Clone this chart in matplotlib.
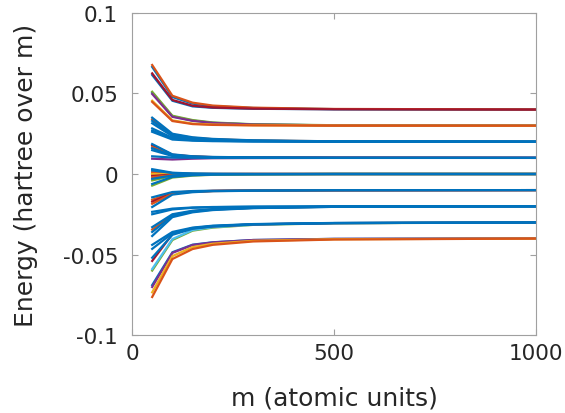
import matplotlib
matplotlib.use('Agg')
import matplotlib.pyplot as plt

# MATLAB default line colours
BLUE = '#0072BD'
ORANGE = '#D95319'
YELLOW = '#EDB120'
PURPLE = '#7E2F8E'
GREEN = '#77AC30'
LBLUE = '#4DBEEE'
RED = '#A2142F'

m = [50, 100, 150, 200, 300, 500, 1000]

# energies, one row per curve, grouped by the level they settle on
lvl_p04 = [
    (BLUE,   [0.0665, 0.0478, 0.0437, 0.0421, 0.0410, 0.0403, 0.0401]),
    (BLUE,   [0.0615, 0.0455, 0.0420, 0.0411, 0.0405, 0.0402, 0.0400]),
    (ORANGE, [0.0677, 0.0486, 0.0443, 0.0425, 0.0412, 0.0404, 0.0401]),
    (RED,    [0.0625, 0.0460, 0.0424, 0.0413, 0.0406, 0.0402, 0.0400]),
]
lvl_p03 = [
    (BLUE,   [0.0505, 0.0358, 0.0332, 0.0318, 0.0308, 0.0302, 0.0300]),
    (GREEN,  [0.0511, 0.0362, 0.0335, 0.0320, 0.0309, 0.0303, 0.0301]),
    (PURPLE, [0.0497, 0.0355, 0.0330, 0.0317, 0.0307, 0.0302, 0.0300]),
    (YELLOW, [0.0455, 0.0333, 0.0313, 0.0307, 0.0303, 0.0301, 0.0300]),
    (ORANGE, [0.0448, 0.0329, 0.0310, 0.0305, 0.0302, 0.0300, 0.0300]),
]
lvl_p02 = [
    (ORANGE, [0.0340, 0.0245, 0.0225, 0.0216, 0.0208, 0.0203, 0.0201]),
    (BLUE,   [0.0350, 0.0250, 0.0228, 0.0218, 0.0209, 0.0203, 0.0201]),
    (BLUE,   [0.0330, 0.0240, 0.0222, 0.0214, 0.0207, 0.0202, 0.0200]),
    (BLUE,   [0.0315, 0.0235, 0.0219, 0.0212, 0.0206, 0.0202, 0.0200]),
    (BLUE,   [0.0283, 0.0225, 0.0212, 0.0207, 0.0204, 0.0201, 0.0200]),
    (BLUE,   [0.0270, 0.0220, 0.0210, 0.0206, 0.0203, 0.0201, 0.0200]),
    (BLUE,   [0.0262, 0.0214, 0.0207, 0.0204, 0.0202, 0.0201, 0.0200]),
]
lvl_p01 = [
    (RED,    [0.0178, 0.0120, 0.0109, 0.0105, 0.0103, 0.0101, 0.0100]),
    (ORANGE, [0.0168, 0.0117, 0.0108, 0.0104, 0.0102, 0.0101, 0.0100]),
    (BLUE,   [0.0186, 0.0122, 0.0110, 0.0106, 0.0103, 0.0101, 0.0100]),
    (BLUE,   [0.0160, 0.0115, 0.0107, 0.0104, 0.0102, 0.0101, 0.0100]),
    (BLUE,   [0.0148, 0.0112, 0.0106, 0.0103, 0.0102, 0.0100, 0.0100]),
    (PURPLE, [0.0095, 0.0090, 0.0095, 0.0098, 0.0099, 0.0100, 0.0100]),
    (BLUE,   [0.0110, 0.0102, 0.0101, 0.0100, 0.0100, 0.0100, 0.0100]),
]
lvl_0 = [
    (ORANGE, [0.0012, 0.0003, 0.0001, 0.0000, 0.0000, 0.0000, 0.0000]),
    (YELLOW, [0.0000, 0.0000, 0.0000, 0.0000, 0.0000, 0.0000, 0.0000]),
    (RED,    [-0.0012, -0.0004, -0.0001, 0.0000, 0.0000, 0.0000, 0.0000]),
    (ORANGE, [-0.0020, -0.0006, -0.0002, -0.0001, 0.0000, 0.0000, 0.0000]),
    (GREEN,  [-0.0040, -0.0012, -0.0005, -0.0002, -0.0001, 0.0000, 0.0000]),
    (GREEN,  [-0.0072, -0.0022, -0.0010, -0.0005, -0.0002, 0.0000, 0.0000]),
    (BLUE,   [0.0030, 0.0008, 0.0003, 0.0001, 0.0000, 0.0000, 0.0000]),
    (BLUE,   [0.0022, 0.0006, 0.0002, 0.0001, 0.0000, 0.0000, 0.0000]),
    (BLUE,   [-0.0030, -0.0009, -0.0003, -0.0001, 0.0000, 0.0000, 0.0000]),
    (BLUE,   [-0.0062, -0.0018, -0.0008, -0.0004, -0.0002, 0.0000, 0.0000]),
]
lvl_m01 = [
    (ORANGE, [-0.0160, -0.0116, -0.0108, -0.0105, -0.0102, -0.0101, -0.0100]),
    (RED,    [-0.0172, -0.0119, -0.0109, -0.0105, -0.0103, -0.0101, -0.0100]),
    (ORANGE, [-0.0185, -0.0122, -0.0110, -0.0106, -0.0103, -0.0101, -0.0100]),
    (BLUE,   [-0.0145, -0.0112, -0.0106, -0.0104, -0.0102, -0.0101, -0.0100]),
    (BLUE,   [-0.0205, -0.0128, -0.0113, -0.0107, -0.0104, -0.0101, -0.0100]),
]
lvl_m02 = [
    (ORANGE, [-0.0345, -0.0255, -0.0231, -0.0220, -0.0210, -0.0203, -0.0201]),
    (BLUE,   [-0.0235, -0.0215, -0.0208, -0.0205, -0.0203, -0.0201, -0.0200]),
    (BLUE,   [-0.0250, -0.0220, -0.0210, -0.0206, -0.0203, -0.0201, -0.0200]),
    (BLUE,   [-0.0330, -0.0250, -0.0228, -0.0218, -0.0209, -0.0203, -0.0201]),
    (BLUE,   [-0.0360, -0.0260, -0.0234, -0.0221, -0.0211, -0.0204, -0.0201]),
    (BLUE,   [-0.0385, -0.0268, -0.0238, -0.0224, -0.0212, -0.0204, -0.0201]),
]
lvl_m03 = [
    (GREEN,  [-0.0600, -0.0410, -0.0352, -0.0333, -0.0316, -0.0306, -0.0301]),
    (LBLUE,  [-0.0590, -0.0404, -0.0348, -0.0330, -0.0315, -0.0305, -0.0301]),
    (RED,    [-0.0540, -0.0373, -0.0337, -0.0325, -0.0313, -0.0305, -0.0301]),
    (BLUE,   [-0.0440, -0.0360, -0.0333, -0.0321, -0.0311, -0.0304, -0.0301]),
    (BLUE,   [-0.0465, -0.0368, -0.0336, -0.0323, -0.0312, -0.0305, -0.0301]),
    (BLUE,   [-0.0520, -0.0378, -0.0340, -0.0326, -0.0313, -0.0305, -0.0301]),
]
lvl_m04 = [
    (BLUE,   [-0.0690, -0.0486, -0.0439, -0.0424, -0.0410, -0.0403, -0.0400]),
    (PURPLE, [-0.0702, -0.0490, -0.0441, -0.0425, -0.0410, -0.0403, -0.0400]),
    (YELLOW, [-0.0735, -0.0510, -0.0454, -0.0433, -0.0415, -0.0405, -0.0401]),
    (ORANGE, [-0.0764, -0.0528, -0.0466, -0.0440, -0.0419, -0.0407, -0.0401]),
]

xticks = [0, 500, 1000]
xtick_labels = ['0', '500', '1000']
yticks = [-0.1, -0.05, 0, 0.05, 0.1]
ytick_labels = ['-0.1', '-0.05', '0', '0.05', '0.1']

plt.rcParams['font.family'] = ['DejaVu Sans']

fig = plt.figure(figsize=(5.65, 4.14), dpi=100)
ax = fig.add_axes([0.2336, 0.1884, 0.7151, 0.7778])

groups = [lvl_p04, lvl_p03, lvl_p02, lvl_p01, lvl_0, lvl_m01, lvl_m02, lvl_m03, lvl_m04]
for grp in groups:
    for col, vals in grp:
        ax.plot(m, vals, color=col, lw=1.6, solid_joinstyle='miter')

ax.set_xlim(0, 1000)
ax.set_ylim(-0.1, 0.1)
ax.set_xticks(xticks)
ax.set_xticklabels(xtick_labels)
ax.set_yticks(yticks)
ax.set_yticklabels(ytick_labels)

axis_col = '#a0a0a0'
text_col = '#262626'
for s in ax.spines.values():
    s.set_color(axis_col)
    s.set_linewidth(0.8)
ax.tick_params(direction='in', length=4, width=0.8, color=axis_col,
               labelcolor=text_col, labelsize=15.5, top=True, right=True)
ax.tick_params(axis='x', pad=6)
ax.tick_params(axis='y', pad=10)

ax.set_xlabel('m (atomic units)', fontsize=18, color=text_col, labelpad=16)
ax.set_ylabel('Energy (hartree over m)', fontsize=18, color=text_col, labelpad=18)

fig.savefig('out.png', dpi=100)
